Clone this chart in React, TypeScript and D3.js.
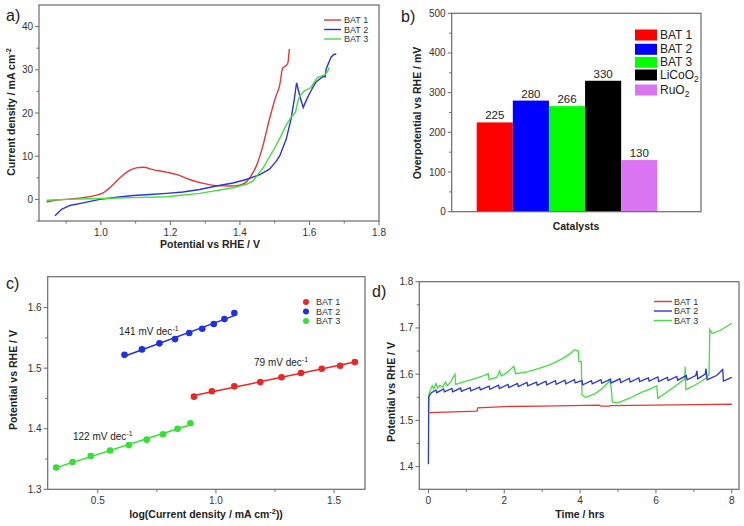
import React from 'react';
import * as d3 from 'd3';

// ---- panel a: LSV curves (potential V, current density mA cm-2)
const lsvBat1: [number, number][] = [
  [0.844, -0.6], [0.873, -0.15], [0.901, 0], [0.949, 0.4], [0.988, 1.0], [1.007, 1.5], [1.031, 3.1],
  [1.055, 5.0], [1.078, 6.5], [1.102, 7.3], [1.122, 7.45], [1.15, 6.9], [1.189, 6.3], [1.217, 5.8],
  [1.255, 4.6], [1.294, 3.7], [1.332, 3.2], [1.37, 3.1], [1.399, 3.3], [1.418, 4.0], [1.428, 5.0],
  [1.447, 7.7], [1.466, 12.4], [1.485, 18.6], [1.504, 24.0], [1.514, 26.3], [1.523, 30.4],
  [1.533, 31.0], [1.538, 31.6], [1.542, 34.8],
];
const lsvBat2: [number, number][] = [
  [0.868, -3.8], [0.887, -2.3], [0.911, -1.4], [0.949, -0.8], [0.997, 0], [1.045, 0.5], [1.093, 0.9],
  [1.141, 1.15], [1.189, 1.4], [1.236, 1.7], [1.284, 2.3], [1.332, 3.1], [1.38, 3.8], [1.418, 4.6],
  [1.456, 5.7], [1.485, 7.0], [1.504, 8.8], [1.514, 10.0], [1.533, 13.9], [1.547, 18.6], [1.556, 23.0],
  [1.563, 27.0], [1.572, 24.0], [1.582, 21.3], [1.594, 23.5], [1.604, 25.1], [1.618, 27.1],
  [1.638, 28.4], [1.645, 28.4], [1.648, 30.2], [1.662, 32.9], [1.671, 33.6], [1.677, 33.6],
];
const lsvBat3: [number, number][] = [
  [0.844, -0.2], [0.901, 0], [0.997, 0.2], [1.093, 0.4], [1.189, 0.6], [1.284, 1.4], [1.38, 2.7],
  [1.418, 3.5], [1.437, 4.2], [1.456, 6.2], [1.466, 7.2], [1.476, 8.6], [1.495, 11.2], [1.514, 14.0],
  [1.533, 17.2], [1.547, 19.0], [1.56, 20.2], [1.566, 22.5], [1.571, 23.8], [1.585, 25.1],
  [1.604, 25.9], [1.623, 28.2], [1.643, 28.8], [1.652, 29.6], [1.657, 30.6],
];
const lsvNames = ['BAT 1', 'BAT 2', 'BAT 3'];
const lsvColors = ['#de3a3a', '#2b36cf', '#44dd44'];

// ---- panel b: overpotential bars
const catalysts = ['BAT 1', 'BAT 2', 'BAT 3', 'LiCoO2', 'RuO2'];
const overpotentials = [225, 280, 266, 330, 130];
const barColors = ['#ff0000', '#0000ff', '#00ff00', '#000000', '#da74f2'];

// ---- panel c: Tafel plots
const tafelBat1: [number, number][] = [
  [0.907, 1.453], [0.983, 1.462], [1.078, 1.47], [1.188, 1.477], [1.278, 1.485], [1.36, 1.492],
  [1.448, 1.499], [1.526, 1.504], [1.588, 1.51],
];
const tafelBat2: [number, number][] = [
  [0.613, 1.522], [0.687, 1.531], [0.761, 1.541], [0.827, 1.548], [0.887, 1.558], [0.942, 1.565],
  [0.991, 1.573], [1.036, 1.581], [1.078, 1.591],
];
const tafelBat3: [number, number][] = [
  [0.324, 1.336], [0.393, 1.345], [0.47, 1.355], [0.552, 1.364], [0.632, 1.373], [0.707, 1.382],
  [0.776, 1.391], [0.838, 1.4], [0.892, 1.409],
];
const tafelColors = ['#e82626', '#1f30e0', '#33e033'];
const tafelLabels = ['79 mV dec', '141 mV dec', '122 mV dec'];

// ---- panel d: chronopotentiometry (hours, V)
const chronoBat1: [number, number][] = [
  [0, 1.515], [0.05, 1.517], [1.28, 1.52], [1.3, 1.527], [2.0, 1.53], [3.0, 1.531], [4.5, 1.533],
  [4.55, 1.531], [4.75, 1.531], [4.8, 1.532], [6.0, 1.533], [7.0, 1.534], [8.0, 1.535],
];
const chronoBat2: [number, number][] = [
  [0, 1.405], [0.01, 1.552], [0.08, 1.56], [0.2, 1.566], [0.22, 1.56], [0.4, 1.568], [0.42, 1.562],
  [0.62, 1.569], [0.64, 1.562], [0.85, 1.57], [0.87, 1.563], [1.1, 1.571], [1.12, 1.564],
  [1.35, 1.572], [1.37, 1.566], [1.6, 1.574], [1.62, 1.567], [1.85, 1.576], [1.87, 1.569],
  [2.1, 1.578], [2.12, 1.571], [2.35, 1.58], [2.37, 1.573], [2.6, 1.582], [2.62, 1.575],
  [2.85, 1.583], [2.87, 1.576], [3.1, 1.585], [3.12, 1.577], [3.35, 1.586], [3.37, 1.578],
  [3.6, 1.587], [3.62, 1.579], [3.85, 1.588], [3.87, 1.581], [4.05, 1.586], [4.07, 1.577],
  [4.3, 1.586], [4.32, 1.579], [4.55, 1.588], [4.57, 1.58], [4.8, 1.589], [4.82, 1.581],
  [5.05, 1.59], [5.07, 1.582], [5.3, 1.591], [5.32, 1.583], [5.55, 1.592], [5.57, 1.584],
  [5.8, 1.592], [5.82, 1.585], [6.05, 1.594], [6.07, 1.584], [6.3, 1.593], [6.32, 1.586],
  [6.55, 1.595], [6.57, 1.587], [6.8, 1.597], [6.82, 1.588], [7.05, 1.597], [7.08, 1.607],
  [7.1, 1.59], [7.3, 1.6], [7.32, 1.612], [7.35, 1.588], [7.6, 1.597], [7.76, 1.61], [7.78, 1.585],
  [8.0, 1.593],
];
const chronoBat3: [number, number][] = [
  [0, 1.517], [0.01, 1.555], [0.05, 1.565], [0.1, 1.575], [0.14, 1.568], [0.2, 1.58], [0.25, 1.57],
  [0.3, 1.576], [0.38, 1.572], [0.45, 1.583], [0.5, 1.575], [0.6, 1.585], [0.7, 1.6], [0.72, 1.578],
  [0.8, 1.58], [1.0, 1.585], [1.2, 1.59], [1.4, 1.595], [1.58, 1.601], [1.6, 1.588], [1.8, 1.593],
  [1.88, 1.607], [1.92, 1.596], [2.1, 1.605], [2.25, 1.617], [2.3, 1.601], [2.6, 1.605],
  [2.9, 1.612], [3.2, 1.62], [3.5, 1.632], [3.75, 1.645], [3.85, 1.653], [3.95, 1.65],
  [3.97, 1.627], [4.03, 1.627], [4.05, 1.555], [4.15, 1.55], [4.4, 1.558], [4.6, 1.57],
  [4.75, 1.583], [4.78, 1.59], [4.82, 1.57], [4.85, 1.54], [5.0, 1.538], [5.3, 1.548], [5.6, 1.56],
  [5.9, 1.57], [6.02, 1.575], [6.05, 1.548], [6.3, 1.562], [6.6, 1.58], [6.76, 1.59], [6.77, 1.616],
  [6.79, 1.567], [7.0, 1.575], [7.3, 1.59], [7.4, 1.6], [7.42, 1.697], [7.48, 1.688], [7.7, 1.695],
  [8.0, 1.71],
];

const FONT = '"Liberation Sans", Arial, sans-serif';
const AX = '#6b6b6b';
const TXT = '#333';

type Lin = d3.ScaleLinear<number, number>;

// frame box with outward Origin-style ticks on left and bottom
function Frame({ x, y, xTicks, xMinor, yTicks, yMinor, xFmt, yFmt }: {
  x: Lin; y: Lin; xTicks?: number[]; xMinor?: number[]; yTicks: number[]; yMinor?: number[];
  xFmt?: (v: number) => string; yFmt: (v: number) => string;
}) {
  const [x0, x1] = x.range();
  const [y0, y1] = y.range();
  return (
    <g>
      <rect x={x0} y={y1} width={x1 - x0} height={y0 - y1} fill="none" stroke={AX} strokeWidth={1.2} />
      {(xTicks || []).map(t => (
        <g key={'xt' + t}>
          <line x1={x(t)} x2={x(t)} y1={y0} y2={y0 + 4} stroke={AX} />
          <text x={x(t)} y={y0 + 15} textAnchor="middle" fontSize={10} fill={TXT}>{xFmt ? xFmt(t) : t}</text>
        </g>
      ))}
      {(xMinor || []).map(t => <line key={'xm' + t} x1={x(t)} x2={x(t)} y1={y0} y2={y0 + 2.5} stroke={AX} />)}
      {yTicks.map(t => (
        <g key={'yt' + t}>
          <line x1={x0 - 4} x2={x0} y1={y(t)} y2={y(t)} stroke={AX} />
          <text x={x0 - 6} y={y(t) + 3.5} textAnchor="end" fontSize={10} fill={TXT}>{yFmt(t)}</text>
        </g>
      ))}
      {(yMinor || []).map(t => <line key={'ym' + t} x1={x0 - 2.5} x2={x0} y1={y(t)} y2={y(t)} stroke={AX} />)}
    </g>
  );
}

function Sub({ base, sub }: { base: string; sub: string }) {
  return <>{base}<tspan fontSize="0.7em" dy={3}>{sub}</tspan></>;
}

function fit(pts: [number, number][]) {
  const mx = d3.mean(pts, p => p[0])!;
  const my = d3.mean(pts, p => p[1])!;
  const sxy = d3.sum(pts, p => (p[0] - mx) * (p[1] - my));
  const sxx = d3.sum(pts, p => (p[0] - mx) ** 2);
  const k = sxy / sxx;
  return (v: number) => my + k * (v - mx);
}

export default function App() {
  // panel a
  const ax = d3.scaleLinear().domain([0.822, 1.8]).range([39, 379]);
  const ay = d3.scaleLinear().domain([-5, 45]).range([221, 5]);
  const aLine = d3.line<[number, number]>().x(d => ax(d[0])).y(d => ay(d[1])).curve(d3.curveMonotoneX);
  const aLinePlain = d3.line<[number, number]>().x(d => ax(d[0])).y(d => ay(d[1]));
  const lsv = [lsvBat1, lsvBat2, lsvBat3];

  // panel b
  const by = d3.scaleLinear().domain([0, 500]).range([211.7, 13.3]);
  const bxFrame = d3.scaleLinear().domain([0, 1]).range([451.7, 701]);
  const bx = d3.scaleBand().domain(catalysts).range([476.7, 657.3]).padding(0);

  // panel c
  const cx = d3.scaleLinear().domain([0.288, 1.631]).range([47.7, 365]);
  const cy = d3.scaleLinear().domain([1.3, 1.651]).range([489.3, 276.7]);
  const tafel = [tafelBat1, tafelBat2, tafelBat3];

  // panel d
  const dx = d3.scaleLinear().domain([-0.24, 8.19]).range([419.3, 739]);
  const dy = d3.scaleLinear().domain([1.351, 1.8]).range([489.3, 281.7]);
  const dLine = d3.line<[number, number]>().x(d => dx(d[0])).y(d => dy(d[1]));
  const chrono = [chronoBat1, chronoBat2, chronoBat3];

  const f1 = (v: number) => v.toFixed(1);

  return (
    <div style={{ position: 'absolute', left: 0, top: 0 }}>
      <svg width={744} height={526} style={{ display: 'block', background: '#fff' }} fontFamily={FONT}>
        {/* ---------- a ---------- */}
        <text x={6} y={21} fontSize={16} fill="#222">a)</text>
        <Frame x={ax} y={ay} xTicks={[1.0, 1.2, 1.4, 1.6, 1.8]} xMinor={[0.9, 1.1, 1.3, 1.5, 1.7]}
          yTicks={[0, 10, 20, 30, 40]} yMinor={[-5, 5, 15, 25, 35]} xFmt={f1} yFmt={v => String(v)} />
        {lsv.map((s, i) => (
          <path key={i} d={(i === 0 ? aLine : aLinePlain)(s) || ''} fill="none" stroke={lsvColors[i]} strokeWidth={1.4} />
        ))}
        {lsvNames.map((n, i) => (
          <g key={n}>
            <line x1={324} x2={341} y1={20 + i * 9.5} y2={20 + i * 9.5} stroke={lsvColors[i]} strokeWidth={1.4} />
            <text x={344} y={23.3 + i * 9.5} fontSize={9} fill={TXT}>{n}</text>
          </g>
        ))}
        <text x={210} y={248} textAnchor="middle" fontSize={10.5} fontWeight="bold" fill="#222">Potential vs RHE / V</text>
        <text transform="translate(15,112) rotate(-90)" textAnchor="middle" fontSize={10.5} fontWeight="bold" fill="#222">
          Current density / mA cm<tspan fontSize="0.7em" dy={-4}>-2</tspan>
        </text>

        {/* ---------- b ---------- */}
        <text x={401} y={22} fontSize={16} fill="#222">b)</text>
        {catalysts.map((c, i) => (
          <g key={c}>
            <rect x={bx(c)} y={by(overpotentials[i])} width={bx.bandwidth()} height={by(0) - by(overpotentials[i])}
              fill={barColors[i]} />
            <text x={bx(c)! + bx.bandwidth() / 2} y={by(overpotentials[i]) - 3} textAnchor="middle" fontSize={11.5} fill="#222">
              {overpotentials[i]}
            </text>
          </g>
        ))}
        <Frame x={bxFrame} y={by} yTicks={[0, 100, 200, 300, 400, 500]} yMinor={[50, 150, 250, 350, 450]} yFmt={v => String(v)} />
        {catalysts.map((c, i) => {
          const yy = [35, 49.3, 62.3, 75, 90][i];
          return (
            <g key={'lg' + c}>
              <rect x={635} y={yy - 5.5} width={22} height={11} fill={barColors[i]} />
              <text x={660} y={yy + 4} fontSize={12} fill="#222">
                {c === 'LiCoO2' ? <Sub base="LiCoO" sub="2" /> : c === 'RuO2' ? <Sub base="RuO" sub="2" /> : c}
              </text>
            </g>
          );
        })}
        <text x={576} y={230} textAnchor="middle" fontSize={10.5} fontWeight="bold" fill="#222">Catalysts</text>
        <text transform="translate(421,113) rotate(-90)" textAnchor="middle" fontSize={10.5} fontWeight="bold" fill="#222">
          Overpotential vs RHE / mV
        </text>

        {/* ---------- c ---------- */}
        <text x={6} y={289} fontSize={16} fill="#222">c)</text>
        <Frame x={cx} y={cy} xTicks={[0.5, 1.0, 1.5]} xMinor={[0.75, 1.25]}
          yTicks={[1.3, 1.4, 1.5, 1.6]} yMinor={[1.35, 1.45, 1.55]} xFmt={f1} yFmt={f1} />
        {tafel.map((s, i) => {
          const g = fit(s);
          const lo = d3.min(s, p => p[0])!;
          const hi = d3.max(s, p => p[0])!;
          return (
            <g key={i}>
              <line x1={cx(lo)} y1={cy(g(lo))} x2={cx(hi)} y2={cy(g(hi))} stroke={tafelColors[i]} strokeWidth={1.5} />
              {s.map((p, j) => <circle key={j} cx={cx(p[0])} cy={cy(p[1])} r={3.3} fill={tafelColors[i]} />)}
            </g>
          );
        })}
        {[[254, 366], [119, 335], [73, 440]].map((p, i) => (
          <text key={i} x={p[0]} y={p[1]} fontSize={10} fill="#222">
            {tafelLabels[i]}<tspan fontSize="0.7em" dy={-4}>-1</tspan>
          </text>
        ))}
        {lsvNames.map((n, i) => (
          <g key={'cl' + n}>
            <circle cx={306} cy={302 + i * 9.5} r={3} fill={tafelColors[i]} />
            <text x={316} y={305.3 + i * 9.5} fontSize={9} fill={TXT}>{n}</text>
          </g>
        ))}
        <text x={206} y={518} textAnchor="middle" fontSize={10.5} fontWeight="bold" fill="#222">
          log(Current density / mA cm<tspan fontSize="0.7em" dy={-4}>-2</tspan><tspan dy={4}>))</tspan>
        </text>
        <text transform="translate(17,380) rotate(-90)" textAnchor="middle" fontSize={10.5} fontWeight="bold" fill="#222">
          Potential vs RHE / V
        </text>

        {/* ---------- d ---------- */}
        <text x={372} y={297} fontSize={16} fill="#222">d)</text>
        <Frame x={dx} y={dy} xTicks={[0, 2, 4, 6, 8]} xMinor={[1, 3, 5, 7]}
          yTicks={[1.4, 1.5, 1.6, 1.7, 1.8]} yMinor={[1.45, 1.55, 1.65, 1.75]} xFmt={v => String(v)} yFmt={f1} />
        {[2, 1, 0].map(i => (
          <path key={i} d={dLine(chrono[i]) || ''} fill="none" stroke={lsvColors[i]} strokeWidth={1.3} />
        ))}
        {lsvNames.map((n, i) => (
          <g key={'dl' + n}>
            <line x1={654} x2={672} y1={301.5 + i * 9.5} y2={301.5 + i * 9.5} stroke={lsvColors[i]} strokeWidth={1.4} />
            <text x={674} y={304.8 + i * 9.5} fontSize={9} fill={TXT}>{n}</text>
          </g>
        ))}
        <text x={580} y={518} textAnchor="middle" fontSize={10.5} fontWeight="bold" fill="#222">Time / hrs</text>
        <text transform="translate(395,392) rotate(-90)" textAnchor="middle" fontSize={10.5} fontWeight="bold" fill="#222">
          Potential vs RHE / V
        </text>
      </svg>
    </div>
  );
}
